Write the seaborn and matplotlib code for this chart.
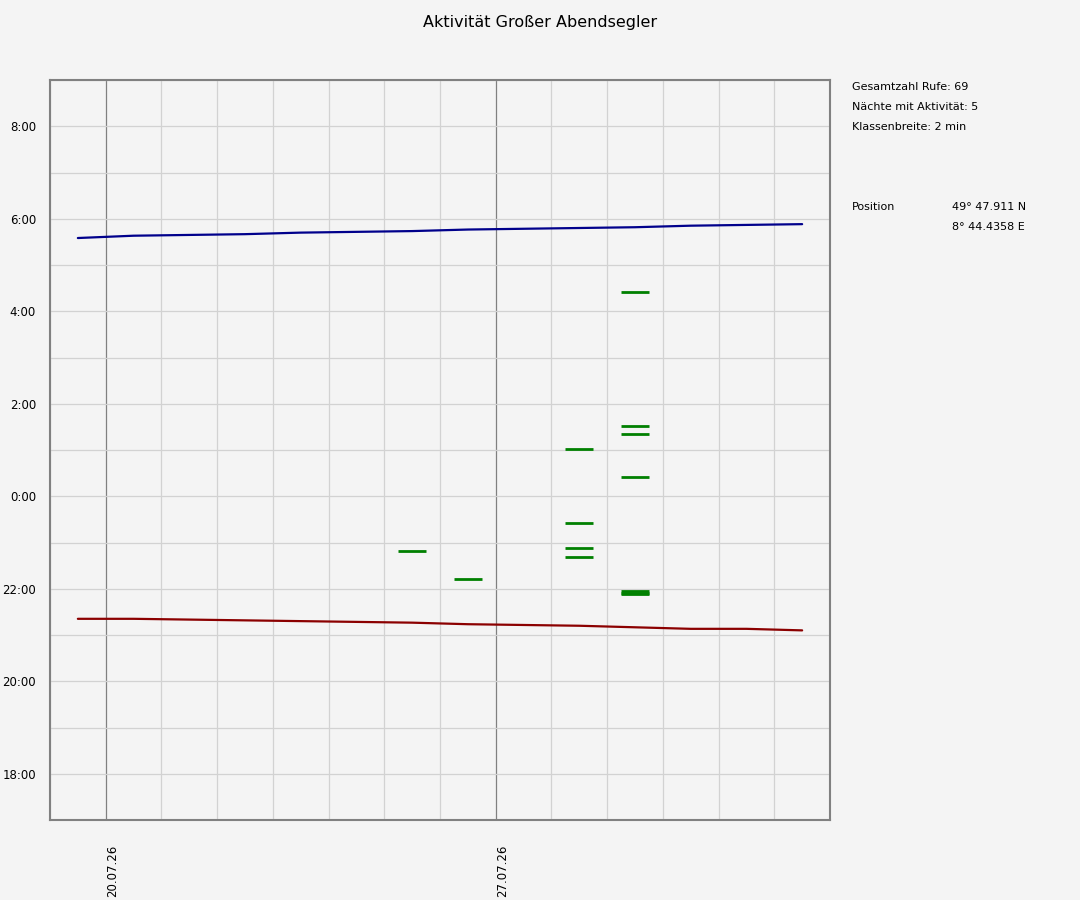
import pandas as pd
import matplotlib
matplotlib.use("Agg")
import matplotlib.pyplot as plt
import matplotlib.dates as mdates
import matplotlib.transforms as mtransforms
import seaborn as sns

# nights (date of the evening) with sunset / sunrise times
nights = ["2026-07-19", "2026-07-20", "2026-07-21", "2026-07-22", "2026-07-23",
          "2026-07-24", "2026-07-25", "2026-07-26", "2026-07-27", "2026-07-28",
          "2026-07-29", "2026-07-30", "2026-07-31", "2026-08-01"]
sunset = ["21:21", "21:21", "21:20", "21:19", "21:18", "21:17", "21:16",
          "21:14", "21:13", "21:12", "21:10", "21:08", "21:08", "21:06"]
sunrise = ["5:35", "5:38", "5:39", "5:40", "5:42", "5:43", "5:44",
           "5:46", "5:47", "5:48", "5:49", "5:51", "5:52", "5:53"]

# 2-minute bins with calls
call_nights = ["2026-07-25", "2026-07-26",
               "2026-07-28", "2026-07-28", "2026-07-28", "2026-07-28",
               "2026-07-29", "2026-07-29", "2026-07-29", "2026-07-29",
               "2026-07-29", "2026-07-29", "2026-07-29"]
call_bins = ["22:48", "22:12",
             "22:40", "22:52", "23:24", "1:00",
             "21:52", "21:54", "21:56", "0:24", "1:20", "1:30", "4:24"]

bin_minutes = 2
total_calls = 69
active_nights = 5
position_lat = "49° 47.911 N"
position_lon = "8° 44.4358 E"


def to_hours(t):
    h, m = (int(v) for v in t.split(":"))
    h = h + m / 60
    return h + 24 if h < 12 else h


sun = pd.DataFrame({
    "x": pd.to_datetime(nights) + pd.Timedelta(hours=12),
    "sunset": [to_hours(t) for t in sunset],
    "sunrise": [to_hours(t) for t in sunrise],
})
calls = pd.DataFrame({
    "x": pd.to_datetime(call_nights) + pd.Timedelta(hours=12),
    "y": [to_hours(t) + bin_minutes / 120 for t in call_bins],
})

bg = "#f4f4f4"
sns.set_style("white", {"axes.facecolor": bg, "figure.facecolor": bg,
                        "text.color": "black", "xtick.color": "black",
                        "ytick.color": "black"})
plt.rcParams["font.family"] = ["DejaVu Sans"]

fig = plt.figure(figsize=(10.8, 9), dpi=100)
ax = fig.add_axes([50 / 1080, 80 / 900, 780 / 1080, 740 / 900])

sns.lineplot(data=sun, x="x", y="sunrise", color="#00008b", lw=1.6, ax=ax)
sns.lineplot(data=sun, x="x", y="sunset", color="#8b0000", lw=1.6, ax=ax)

xc = mdates.date2num(calls["x"])
ax.hlines(calls["y"], xc - 0.25, xc + 0.25, color="#008000", lw=2.0, zorder=3)

ax.set_xlim(pd.Timestamp("2026-07-19"), pd.Timestamp("2026-08-02"))
ax.set_ylim(17, 33)

ax.xaxis.set_major_locator(mdates.WeekdayLocator(byweekday=mdates.MO))
ax.xaxis.set_major_formatter(mdates.DateFormatter("%d.%m.%y"))
ax.xaxis.set_minor_locator(mdates.DayLocator())
ax.set_yticks([18, 20, 22, 24, 26, 28, 30, 32])
ax.set_yticklabels(["18:00", "20:00", "22:00", "0:00", "2:00", "4:00", "6:00", "8:00"])
ax.set_yticks(range(17, 34), minor=True)

ax.grid(which="minor", color="#d2d2d2", lw=0.9)
ax.grid(which="major", axis="y", color="#d2d2d2", lw=0.9)
ax.grid(which="major", axis="x", color="#808080", lw=0.9)
ax.set_axisbelow(True)

ax.tick_params(axis="both", which="both", length=0)
ax.tick_params(axis="x", labelrotation=90, pad=18, labelsize=8.5)
ax.tick_params(axis="y", pad=10, labelsize=8.5)
shift = mtransforms.ScaledTranslation(7 / 100, 0, fig.dpi_scale_trans)
for lab in ax.get_xticklabels():
    lab.set_va("top")
    lab.set_transform(lab.get_transform() + shift)
ax.set_xlabel("")
ax.set_ylabel("")

for s in ax.spines.values():
    s.set_color("#808080")
    s.set_linewidth(1.5)

fig.text(0.5, 1 - 22 / 900, "Aktivität Großer Abendsegler", ha="center", va="center", fontsize=11.5)

tx = 852 / 1080
info = [f"Gesamtzahl Rufe: {total_calls}",
        f"Nächte mit Aktivität: {active_nights}",
        f"Klassenbreite: {bin_minutes} min"]
for i, t in enumerate(info):
    fig.text(tx, 1 - (87 + 20 * i) / 900, t, ha="left", va="center", fontsize=8)
fig.text(tx, 1 - 207 / 900, "Position", ha="left", va="center", fontsize=8)
fig.text(952 / 1080, 1 - 207 / 900, position_lat, ha="left", va="center", fontsize=8)
fig.text(952 / 1080, 1 - 227 / 900, position_lon, ha="left", va="center", fontsize=8)

fig.savefig("out.png", dpi=100, facecolor=bg)
